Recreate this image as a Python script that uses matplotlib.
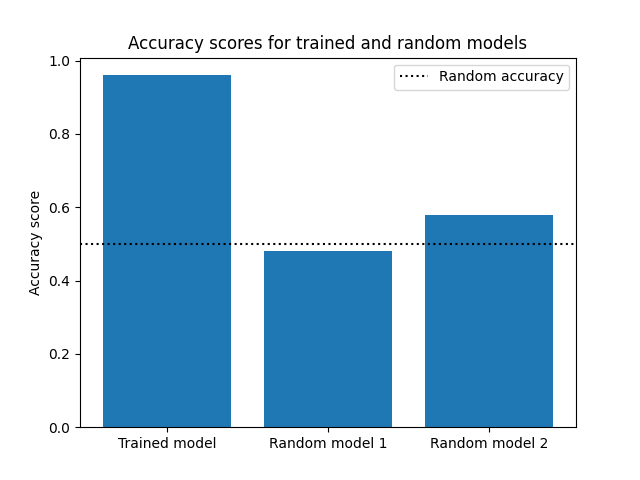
import matplotlib
matplotlib.use("Agg")
import matplotlib.pyplot as plt

categories = ["Trained model", "Random model 1", "Random model 2"]
scores = [0.96, 0.48, 0.58]
random_accuracy = 0.5

fig, ax = plt.subplots(figsize=(6.4, 4.8), dpi=100)
ax.bar(categories, scores)
ax.axhline(random_accuracy, color="black", linestyle=":", label="Random accuracy")
ax.set_ylabel("Accuracy score")
ax.set_title("Accuracy scores for trained and random models")
ax.legend()
fig.savefig("out.png")
